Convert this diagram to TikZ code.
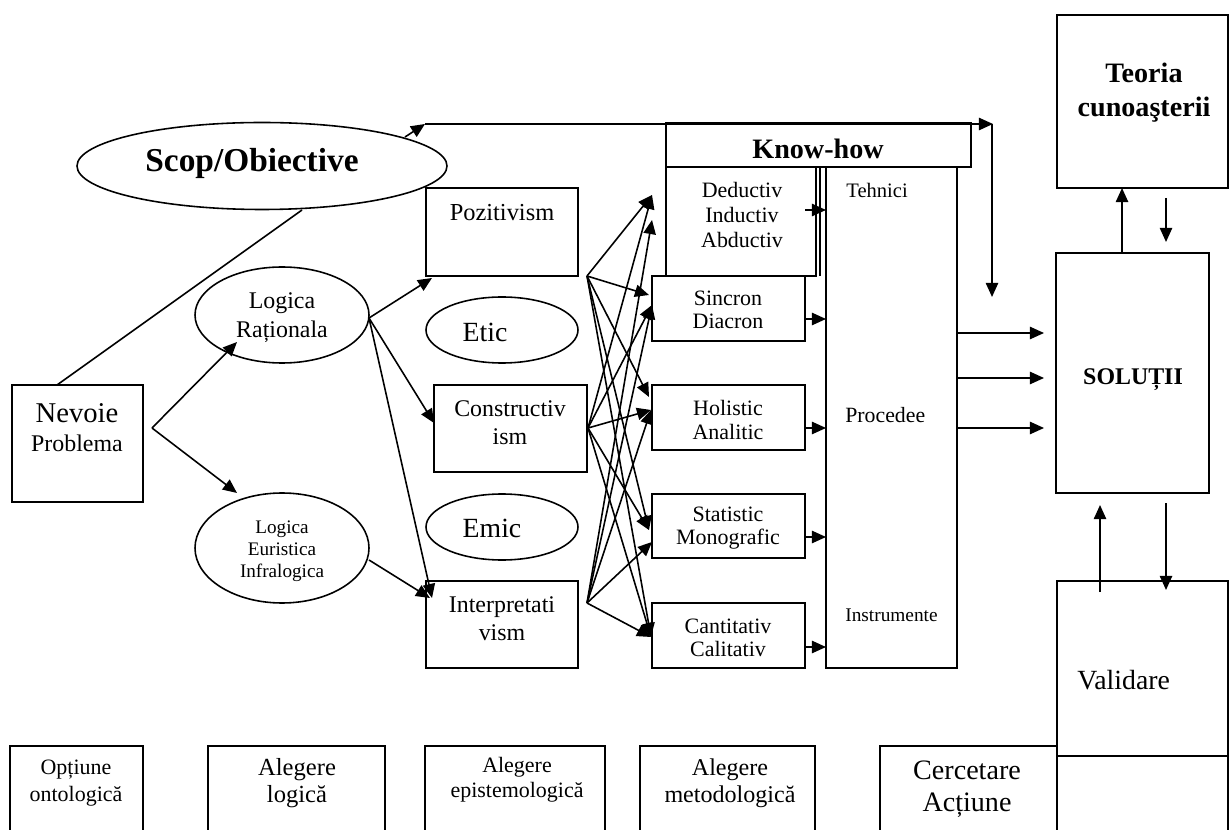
\documentclass[tikz,border=0pt]{standalone}
\usepackage{fontspec}
\setmainfont{Liberation Serif}
\usetikzlibrary{arrows.meta,shapes.geometric}
\newcommand\myfs[2]{\fontsize{#1}{#2}\selectfont}
\tikzset{
  box/.style n args={2}{draw, line width=1.1pt, minimum width=#1*0.02cm, minimum height=#2*0.02cm, inner sep=0pt, anchor=center},
  ell/.style n args={2}{draw, ellipse, line width=0.9pt, minimum width=#1*0.02cm, minimum height=#2*0.02cm, inner sep=0pt, anchor=center},
  arr/.style={line width=0.9pt, -{Triangle[length=8pt,width=7pt]}},
  ln/.style={line width=0.9pt},
  txt/.style={align=center, inner sep=0pt, anchor=center},
  ltxt/.style={align=left, inner sep=0pt, anchor=west},
}
\begin{document}
\begin{tikzpicture}[x=0.02cm,y=-0.02cm]
\clip (0,0) rectangle (1229,830);
\fill[white] (0,0) rectangle (1229,830);

% ---------- shapes ----------
\node[ell={370}{87}] (scop) at (262,166) {};
\node[txt, font=\bfseries\myfs{19}{22}] (scopt) at (252,163) {Scop/Obiective};

\node[box={131}{117}] (nev) at (77.5,443.5) {};
\node[txt, font=\myfs{16.3}{18}] (nevt) at (77,413) {Nevoie};
\node[txt, font=\myfs{13.6}{16}] (probt) at (77,443) {Problema};

\node[ell={174}{96}] (lr) at (282,315) {};
\node[txt, font=\myfs{13.6}{16.4}] (lrt) at (282,318) {Logica\\Raționala};
\node[ell={174}{110}] (le) at (282,548) {};
\node[txt, font=\myfs{10.9}{12.5}] (let) at (282,551) {Logica\\Euristica\\Infralogica};

\node[box={152}{88}] (poz) at (502,232) {};
\node[txt, font=\myfs{13.9}{16}] (pozt) at (502,213) {Pozitivism};
\node[ell={152}{66}] (etic) at (502,330) {};
\node[txt, font=\myfs{15.8}{18}] (etict) at (485,332) {Etic};
\node[box={153}{87}] (cons) at (510.5,428.5) {};
\node[txt, font=\myfs{13.6}{15.9}] (const) at (510,423) {Constructiv\\ism};
\node[ell={152}{66}] (emic) at (502,527) {};
\node[txt, font=\myfs{15.8}{18}] (emict) at (492,528) {Emic};
\node[box={152}{87}] (inter) at (502,624.5) {};
\node[txt, font=\myfs{13.6}{15.9}] (intert) at (502,619) {Interpretati\\vism};

\node[box={305}{44}] (kh) at (818.5,145) {};
\node[txt, font=\bfseries\myfs{16}{18}] (kht) at (818,149) {Know-how};
\node[box={150}{109}] (ded) at (741,221.5) {};
\draw[line width=1.1pt] (820,167) -- (820,276);
\node[txt, font=\myfs{12.5}{14.2}] (dedt) at (742,215) {Deductiv\\Inductiv\\Abductiv};
\node[box={153}{65}] (sin) at (728.5,308.5) {};
\node[txt, font=\myfs{12.5}{13.2}] (sint) at (728,310) {Sincron\\Diacron};
\node[box={153}{65}] (hol) at (728.5,417.5) {};
\node[txt, font=\myfs{12.5}{13.8}] (holt) at (728,420) {Holistic\\Analitic};
\node[box={153}{64}] (sta) at (728.5,526) {};
\node[txt, font=\myfs{12.5}{13.2}] (stat) at (728,528) {Statistic\\Monografic};
\node[box={153}{65}] (can) at (728.5,635.5) {};
\node[txt, font=\myfs{12.5}{13.2}] (cant) at (728,638) {Cantitativ\\Calitativ};

\node[box={131}{501}] (col) at (891.5,417.5) {};
\node[ltxt, font=\myfs{11.7}{14}] (teh) at (846,190) {Tehnici};
\node[ltxt, font=\myfs{12.4}{14}] (proc) at (845,415) {Procedee};
\node[ltxt, font=\myfs{11}{13}] (instr) at (845,615) {Instrumente};

\node[box={171}{173}] (teo) at (1142.5,101.5) {};
\node[txt, font=\bfseries\myfs{16}{19.3}] (teot) at (1144,93) {Teoria\\cunoaşterii};
\node[box={153}{240}] (sol) at (1132.5,373) {};
\node[txt, font=\bfseries\myfs{13.6}{16}] (solt) at (1133,380) {SOLUȚII};
\node[box={171}{175}] (val) at (1142.5,668.5) {};
\node[ltxt, font=\myfs{15.8}{18}] (valt) at (1077,680) {Validare};
\node[box={171}{100}] (valb) at (1142.5,806) {};

% bottom row
\node[box={133}{110}] (b1) at (76.5,801) {};
\node[txt, font=\myfs{12.5}{15.3}] (b1t) at (76,783) {Opțiune\\ontologică};
\node[box={177}{110}] (b2) at (296.5,801) {};
\node[txt, font=\myfs{14}{15.3}] (b2t) at (297,783) {Alegere\\logică};
\node[box={180}{110}] (b3) at (515,801) {};
\node[txt, font=\myfs{12.5}{14.2}] (b3t) at (517,780) {Alegere\\epistemologică};
\node[box={175}{110}] (b4) at (727.5,801) {};
\node[txt, font=\myfs{13.7}{15.3}] (b4t) at (730,783) {Alegere\\metodologică};
\node[box={177}{110}] (b5) at (968.5,801) {};
\node[txt, font=\myfs{16}{18.5}] (b5t) at (967,789) {Cercetare\\Acțiune};

% ---------- coordinates ----------
\coordinate (scopout) at (405,137);
\coordinate (c1) at (425,124);
\coordinate (c2) at (993,124);
\coordinate (c3) at (992,124);
\coordinate (c4) at (992,297);
\coordinate (nevtop) at (57,385);
\coordinate (scopbot) at (302,210);
\coordinate (fork) at (152,428);
\coordinate (lrin) at (237,342);
\coordinate (lein) at (237,493);
\coordinate (lrout) at (369,318);
\coordinate (leout) at (369,560);
\coordinate (pozin) at (432,278);
\coordinate (consin) at (434,423);
\coordinate (interin) at (432,598);
\coordinate (interin2) at (430,598);

\coordinate (s1) at (587,276);
\coordinate (s2) at (588,428);
\coordinate (s3) at (587,603);
\coordinate (d1) at (652,195);
\coordinate (d3) at (652,220);
\coordinate (si1) at (649,295);
\coordinate (si2) at (652,305);
\coordinate (h1) at (649,397);
\coordinate (h2) at (651,410);
\coordinate (st1) at (649,530);
\coordinate (st2) at (652,542);
\coordinate (ca) at (651,637);

% ---------- connectors ----------
\draw[arr] (scopout) -- (c1);
\draw[arr] (c1) -- (c2);
\draw[arr] (c3) -- (c4);
\draw[ln] (nevtop) -- (scopbot);
\draw[arr] (fork) -- (lrin);
\draw[arr] (fork) -- (lein);
\draw[arr] (lrout) -- (pozin);
\draw[arr] (lrout) -- (consin);
\draw[arr] (lrout) -- (interin);
\draw[arr] (leout) -- (interin2);

\foreach \s/\d in {s1/d1,s2/d1,s3/d3, s1/si1,s2/si2,s3/si2, s1/h1,s2/h2,s3/h2, s1/st1,s2/st1,s3/st2, s1/ca,s2/ca,s3/ca}
  \draw[arr] (\s) -- (\d);

% boxes to column
\foreach \y/\n in {210/a,319/b,428/c,537/d,647/e}{
  \coordinate (bl\n) at (805,\y);
  \coordinate (br\n) at (826,\y);
  \draw[arr] (bl\n) -- (br\n);
}
% column to solutions
\foreach \y/\n in {333/a,378/b,428/c}{
  \coordinate (cl\n) at (957,\y);
  \coordinate (cr\n) at (1044,\y);
  \draw[arr] (cl\n) -- (cr\n);
}
% solutions / theory
\coordinate (su1) at (1122,253);
\coordinate (su2) at (1122,188);
\draw[arr] (su1) -- (su2);
\coordinate (sd1) at (1166,198);
\coordinate (sd2) at (1166,242);
\draw[arr] (sd1) -- (sd2);
% solutions / validation
\coordinate (vu1) at (1100,592);
\coordinate (vu2) at (1100,505);
\draw[arr] (vu1) -- (vu2);
\coordinate (vd1) at (1166,503);
\coordinate (vd2) at (1166,590);
\draw[arr] (vd1) -- (vd2);
\end{tikzpicture}
\end{document}
